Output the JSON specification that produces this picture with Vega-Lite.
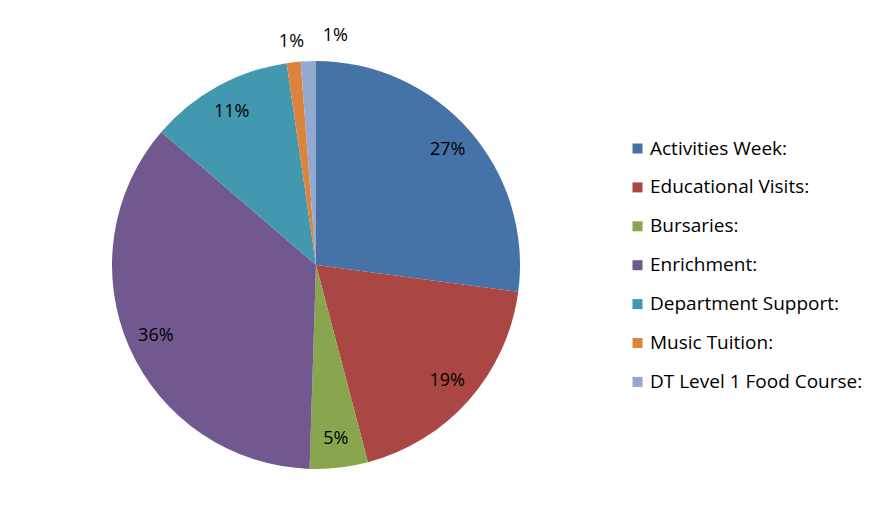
{
  "$schema": "https://vega.github.io/schema/vega-lite/v6.json",
  "width": 618,
  "height": 522,
  "autosize": {"type": "none"},
  "padding": {"left": 7, "top": 4, "right": 245, "bottom": 0},
  "background": "white",
  "config": {"view": {"stroke": null}, "font": "Open Sans"},
  "data": {
    "values": [
      {"idx": 1, "category": "Activities Week:", "value": 27.1, "label": "27%"},
      {"idx": 2, "category": "Educational Visits:", "value": 18.8, "label": "19%"},
      {"idx": 3, "category": "Bursaries:", "value": 4.6, "label": "5%"},
      {"idx": 4, "category": "Enrichment:", "value": 35.8, "label": "36%"},
      {"idx": 5, "category": "Department Support:", "value": 11.4, "label": "11%"},
      {"idx": 6, "category": "Music Tuition:", "value": 1.1, "label": "1%"},
      {"idx": 7, "category": "DT Level 1 Food Course:", "value": 1.2, "label": "1%"}
    ]
  },
  "encoding": {
    "theta": {"field": "value", "type": "quantitative", "stack": true},
    "order": {"field": "idx", "type": "quantitative"}
  },
  "layer": [
    {
      "mark": {"type": "arc", "outerRadius": 204},
      "encoding": {
        "color": {
          "field": "category",
          "type": "nominal",
          "scale": {
            "domain": ["Activities Week:", "Educational Visits:", "Bursaries:", "Enrichment:", "Department Support:", "Music Tuition:", "DT Level 1 Food Course:"],
            "range": ["#4572A7", "#AA4643", "#89A54E", "#71588F", "#4198AF", "#DB843D", "#93A9CF"]
          },
          "legend": {
            "title": null,
            "orient": "none",
            "legendX": 621,
            "legendY": 135,
            "symbolType": "square",
            "symbolSize": 100,
            "symbolStrokeWidth": 0,
            "labelFontSize": 19,
            "labelFont": "Open Sans",
            "labelColor": "#000000",
            "labelOffset": 3,
            "labelLimit": 300,
            "rowPadding": 18.9
          }
        }
      }
    },
    {
      "mark": {"type": "text", "radius": 175, "fontSize": 18, "color": "#000000"},
      "encoding": {"text": {"condition": {"test": "datum.value > 2", "field": "label"}, "value": ""}}
    },
    {
      "mark": {"type": "text", "radius": 224, "fontSize": 18, "color": "#000000"},
      "encoding": {"text": {"condition": {"test": "datum.idx == 6", "field": "label"}, "value": ""}}
    },
    {
      "mark": {"type": "text", "radius": 229, "dx": 28, "fontSize": 18, "color": "#000000"},
      "encoding": {"text": {"condition": {"test": "datum.idx == 7", "field": "label"}, "value": ""}}
    }
  ]
}
